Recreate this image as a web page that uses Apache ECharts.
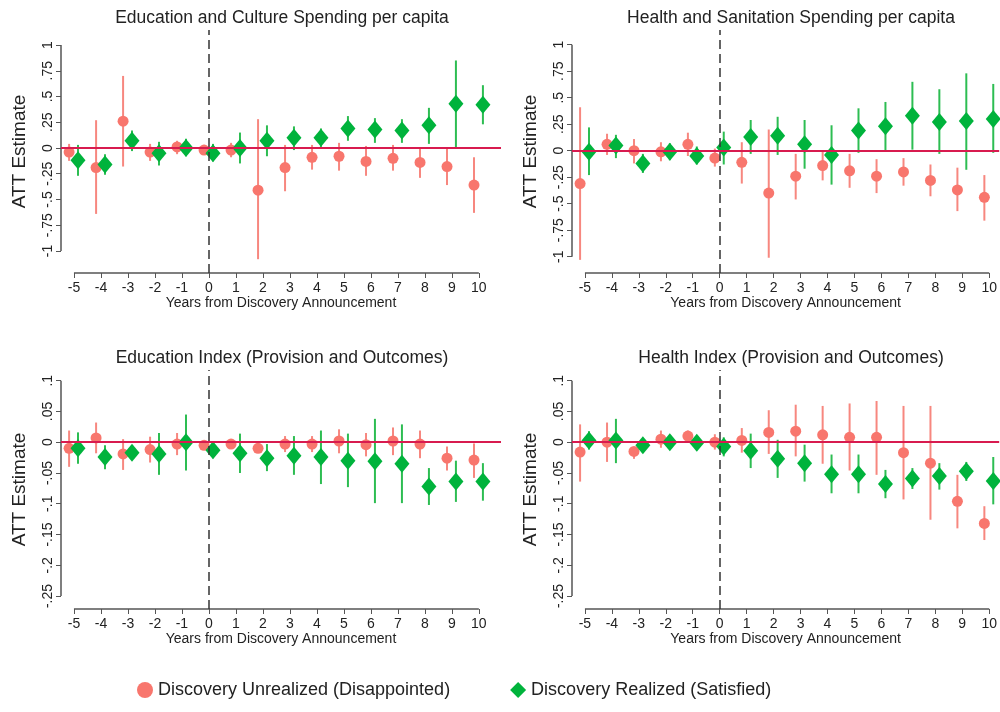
<!DOCTYPE html>
<html>
<head>
<meta charset="utf-8">
<script src="https://cdn.jsdelivr.net/npm/echarts@6/dist/echarts.min.js"></script>
<style>html,body{margin:0;padding:0;background:#fff}#main{width:1000px;height:712px}</style>
</head>
<body>
<div id="main"></div>
<script>
var years = [-5,-4,-3,-2,-1,0,1,2,3,4,5,6,7,8,9,10];
var redName = 'Discovery Unrealized (Disappointed)';
var greenName = 'Discovery Realized (Satisfied)';

// Education and Culture Spending per capita
var eduSpendRed   = [-.04,-.19,.26,-.04,.01,-.02,-.02,-.41,-.19,-.09,-.08,-.13,-.10,-.14,-.18,-.36];
var eduSpendRedHi = [.04,.27,.70,.04,.07,.03,.05,.28,.03,.03,.05,.02,.03,.01,.01,-.09];
var eduSpendRedLo = [-.125,-.64,-.18,-.125,-.06,-.06,-.09,-1.08,-.42,-.21,-.22,-.27,-.22,-.29,-.36,-.63];
var eduSpendGrn   = [-.12,-.16,.07,-.05,0,-.05,0,.07,.10,.10,.19,.18,.17,.22,.43,.42];
var eduSpendGrnHi = [.03,-.06,.17,.06,.09,.04,.15,.22,.21,.19,.31,.29,.28,.39,.85,.61];
var eduSpendGrnLo = [-.27,-.26,-.03,-.17,-.08,-.13,-.15,-.08,-.02,.01,.07,.05,.05,.04,0,.23];

// Health and Sanitation Spending per capita
var hlthSpendRed   = [-.31,.06,0,-.01,.06,-.07,-.11,-.40,-.24,-.14,-.19,-.24,-.20,-.28,-.37,-.44];
var hlthSpendRedHi = [.41,.16,.11,.08,.17,.02,.08,.20,-.03,0,-.03,-.08,-.07,-.13,-.16,-.23];
var hlthSpendRedLo = [-1.03,-.04,-.12,-.10,-.05,-.15,-.31,-1.01,-.46,-.28,-.35,-.40,-.33,-.43,-.57,-.66];
var hlthSpendGrn   = [-.01,.05,-.12,-.01,-.05,.03,.13,.14,.06,-.04,.19,.23,.33,.27,.28,.30];
var hlthSpendGrnHi = [.22,.15,-.03,.07,.04,.18,.29,.32,.29,.24,.40,.46,.65,.58,.73,.63];
var hlthSpendGrnLo = [-.23,-.07,-.21,-.09,-.13,-.13,-.03,-.04,-.17,-.32,-.02,0,.01,-.03,-.18,-.02];

// Education Index (Provision and Outcomes)
var eduIdxRed   = [-.010,.007,-.019,-.012,-.003,-.005,-.003,-.010,-.003,-.003,.002,-.004,.002,-.003,-.026,-.029];
var eduIdxRedHi = [.019,.032,.005,.009,.015,.002,.004,-.004,.010,.010,.021,.015,.024,.019,-.007,-.002];
var eduIdxRedLo = [-.040,-.018,-.045,-.033,-.021,-.012,-.011,-.016,-.016,-.016,-.018,-.023,-.021,-.026,-.046,-.058];
var eduIdxGrn   = [-.010,-.024,-.017,-.019,0,-.013,-.018,-.026,-.022,-.024,-.030,-.031,-.035,-.072,-.064,-.064];
var eduIdxGrnHi = [.016,-.005,-.011,.015,.045,.002,.014,-.003,.010,.019,.014,.038,.029,-.042,-.030,-.034];
var eduIdxGrnLo = [-.035,-.044,-.027,-.053,-.046,-.026,-.050,-.047,-.053,-.068,-.073,-.099,-.099,-.102,-.097,-.095];

// Health Index (Provision and Outcomes)
var hlthIdxRed   = [-.016,0,-.015,.005,.010,0,.003,.016,.018,.012,.008,.008,-.017,-.034,-.096,-.132];
var hlthIdxRedHi = [.029,.032,-.009,.019,.019,.013,.023,.052,.061,.059,.063,.067,.059,.059,-.053,-.104];
var hlthIdxRedLo = [-.064,-.032,-.027,-.009,.002,-.012,-.017,-.019,-.023,-.035,-.046,-.053,-.093,-.126,-.140,-.159];
var hlthIdxGrn   = [.003,.003,-.005,0,-.001,-.007,-.014,-.027,-.034,-.052,-.052,-.068,-.059,-.055,-.047,-.063];
var hlthIdxGrnHi = [.018,.038,.005,.005,.004,.008,.014,.004,-.004,-.020,-.020,-.045,-.042,-.034,-.032,-.024];
var hlthIdxGrnLo = [-.012,-.034,-.017,-.005,-.007,-.023,-.042,-.058,-.064,-.083,-.083,-.091,-.076,-.077,-.063,-.101];

var spendTicks = [-1,-.75,-.5,-.25,0,.25,.5,.75,1];
var idxTicks = [-.25,-.2,-.15,-.1,-.05,0,.05,.1];

var redC = '#f8766d', redBar = '#f7877f', grnC = '#00b33c', grnBar = '#2dbd52';

var panels = [
  {title:'Education and Culture Spending per capita', grid:{left:61,top:30,width:440,height:243}, tx:277,
   xMin:-5.48, xMax:10.82, yMin:-1.214, yMax:1.146, ticks:spendTicks,
   r:[eduSpendRed,eduSpendRedLo,eduSpendRedHi], g:[eduSpendGrn,eduSpendGrnLo,eduSpendGrnHi]},
  {title:'Health and Sanitation Spending per capita', grid:{left:572,top:30,width:428,height:243}, tx:786,
   xMin:-5.48, xMax:10.37, yMin:-1.154, yMax:1.139, ticks:spendTicks,
   r:[hlthSpendRed,hlthSpendRedLo,hlthSpendRedHi], g:[hlthSpendGrn,hlthSpendGrnLo,hlthSpendGrnHi]},
  {title:'Education Index (Provision and Outcomes)', grid:{left:61,top:370,width:440,height:239}, tx:277,
   xMin:-5.48, xMax:10.82, yMin:-.2711, yMax:.1174, ticks:idxTicks,
   r:[eduIdxRed,eduIdxRedLo,eduIdxRedHi], g:[eduIdxGrn,eduIdxGrnLo,eduIdxGrnHi]},
  {title:'Health Index (Provision and Outcomes)', grid:{left:572,top:370,width:428,height:239}, tx:786,
   xMin:-5.48, xMax:10.37, yMin:-.2711, yMax:.1174, ticks:idxTicks,
   r:[hlthIdxRed,hlthIdxRedLo,hlthIdxRedHi], g:[hlthIdxGrn,hlthIdxGrnLo,hlthIdxGrnHi]}
];

function fmt(v){
  var s = String(Math.round(v*1000)/1000);
  return s.replace(/^0\./,'.').replace(/^-0\./,'-.');
}
function errBar(color){
  return function(params, api){
    var a = api.coord([api.value(0), api.value(1)]);
    var b = api.coord([api.value(0), api.value(2)]);
    return {type:'line', shape:{x1:a[0],y1:a[1],x2:b[0],y2:b[1]}, style:{stroke:color,lineWidth:2}};
  };
}

var option = {backgroundColor:'#fff', animation:false, title:[], grid:[], xAxis:[], yAxis:[], series:[],
  legend:{bottom:8, left:132, itemGap:60, itemWidth:16, itemHeight:16,
    textStyle:{fontSize:18, color:'#222', fontFamily:'Liberation Sans'},
    data:[{name:redName, icon:'circle'},{name:greenName, icon:'diamond'}]}
};

panels.forEach(function(p, i){
  option.title.push({text:p.title, left:p.tx, top:p.grid.top-26, textAlign:'center',
    textStyle:{fontSize:17.5, fontWeight:'normal', color:'#222', fontFamily:'Liberation Sans'}});
  option.grid.push(p.grid);
  option.xAxis.push({type:'value', gridIndex:i, min:p.xMin, max:p.xMax,
    name:'Years from Discovery Announcement', nameLocation:'middle', nameGap:22,
    nameTextStyle:{fontSize:14, color:'#222', fontFamily:'Liberation Sans'},
    axisLine:{show:false, onZero:false}, splitLine:{show:false},
    axisTick:{customValues:years, length:5, lineStyle:{color:'#555'}},
    axisLabel:{customValues:years, fontSize:14, color:'#222', margin:8, fontFamily:'Liberation Sans'}});
  option.yAxis.push({type:'value', gridIndex:i, min:p.yMin, max:p.yMax,
    name:'ATT Estimate', nameLocation:'middle', nameGap:32, nameRotate:90,
    nameTextStyle:{fontSize:19, color:'#222', fontFamily:'Liberation Sans'},
    axisLine:{show:false, onZero:false}, splitLine:{show:false},
    axisTick:{customValues:p.ticks, length:5, lineStyle:{color:'#555'}},
    axisLabel:{customValues:p.ticks, rotate:90, fontSize:14, color:'#222', margin:6,
      fontFamily:'Liberation Sans', formatter:fmt}});
  var ticks = p.ticks;
  option.series.push({type:'custom', xAxisIndex:i, yAxisIndex:i, silent:true, data:[[0]], z:1,
    renderItem:function(params, api){
      var a = api.coord([p.xMin, ticks[0]]), b = api.coord([p.xMin, ticks[ticks.length-1]]);
      var c = api.coord([-5, p.yMin]), d = api.coord([10, p.yMin]);
      var st = {stroke:'#555', lineWidth:1.5};
      return {type:'group', children:[
        {type:'line', shape:{x1:a[0],y1:a[1],x2:b[0],y2:b[1]}, style:st},
        {type:'line', shape:{x1:c[0],y1:c[1],x2:d[0],y2:d[1]}, style:st}
      ]};
    },
    markLine:{silent:true, symbol:'none', label:{show:false},
      data:[{yAxis:0, lineStyle:{color:'#d81b4f', width:2, type:'solid'}},
            {xAxis:0, lineStyle:{color:'#333', width:1.5, type:[9,5]}}]}
  });
  var rOff = -0.18, gOff = 0.15;
  option.series.push({type:'custom', xAxisIndex:i, yAxisIndex:i, silent:true, z:2, renderItem:errBar(redBar),
    data:years.map(function(y,k){return [y+rOff, p.r[1][k], p.r[2][k]];})});
  option.series.push({type:'custom', xAxisIndex:i, yAxisIndex:i, silent:true, z:2, renderItem:errBar(grnBar),
    data:years.map(function(y,k){return [y+gOff, p.g[1][k], p.g[2][k]];})});
  option.series.push({type:'scatter', name:redName, xAxisIndex:i, yAxisIndex:i, z:3, symbol:'circle', symbolSize:11,
    itemStyle:{color:redC, opacity:1}, data:years.map(function(y,k){return [y+rOff, p.r[0][k]];})});
  option.series.push({type:'scatter', name:greenName, xAxisIndex:i, yAxisIndex:i, z:4, symbol:'diamond', symbolSize:[15,18],
    itemStyle:{color:grnC, opacity:1}, data:years.map(function(y,k){return [y+gOff, p.g[0][k]];})});
});

var myChart = echarts.init(document.getElementById('main'));
myChart.setOption(option);
</script>
</body>
</html>
